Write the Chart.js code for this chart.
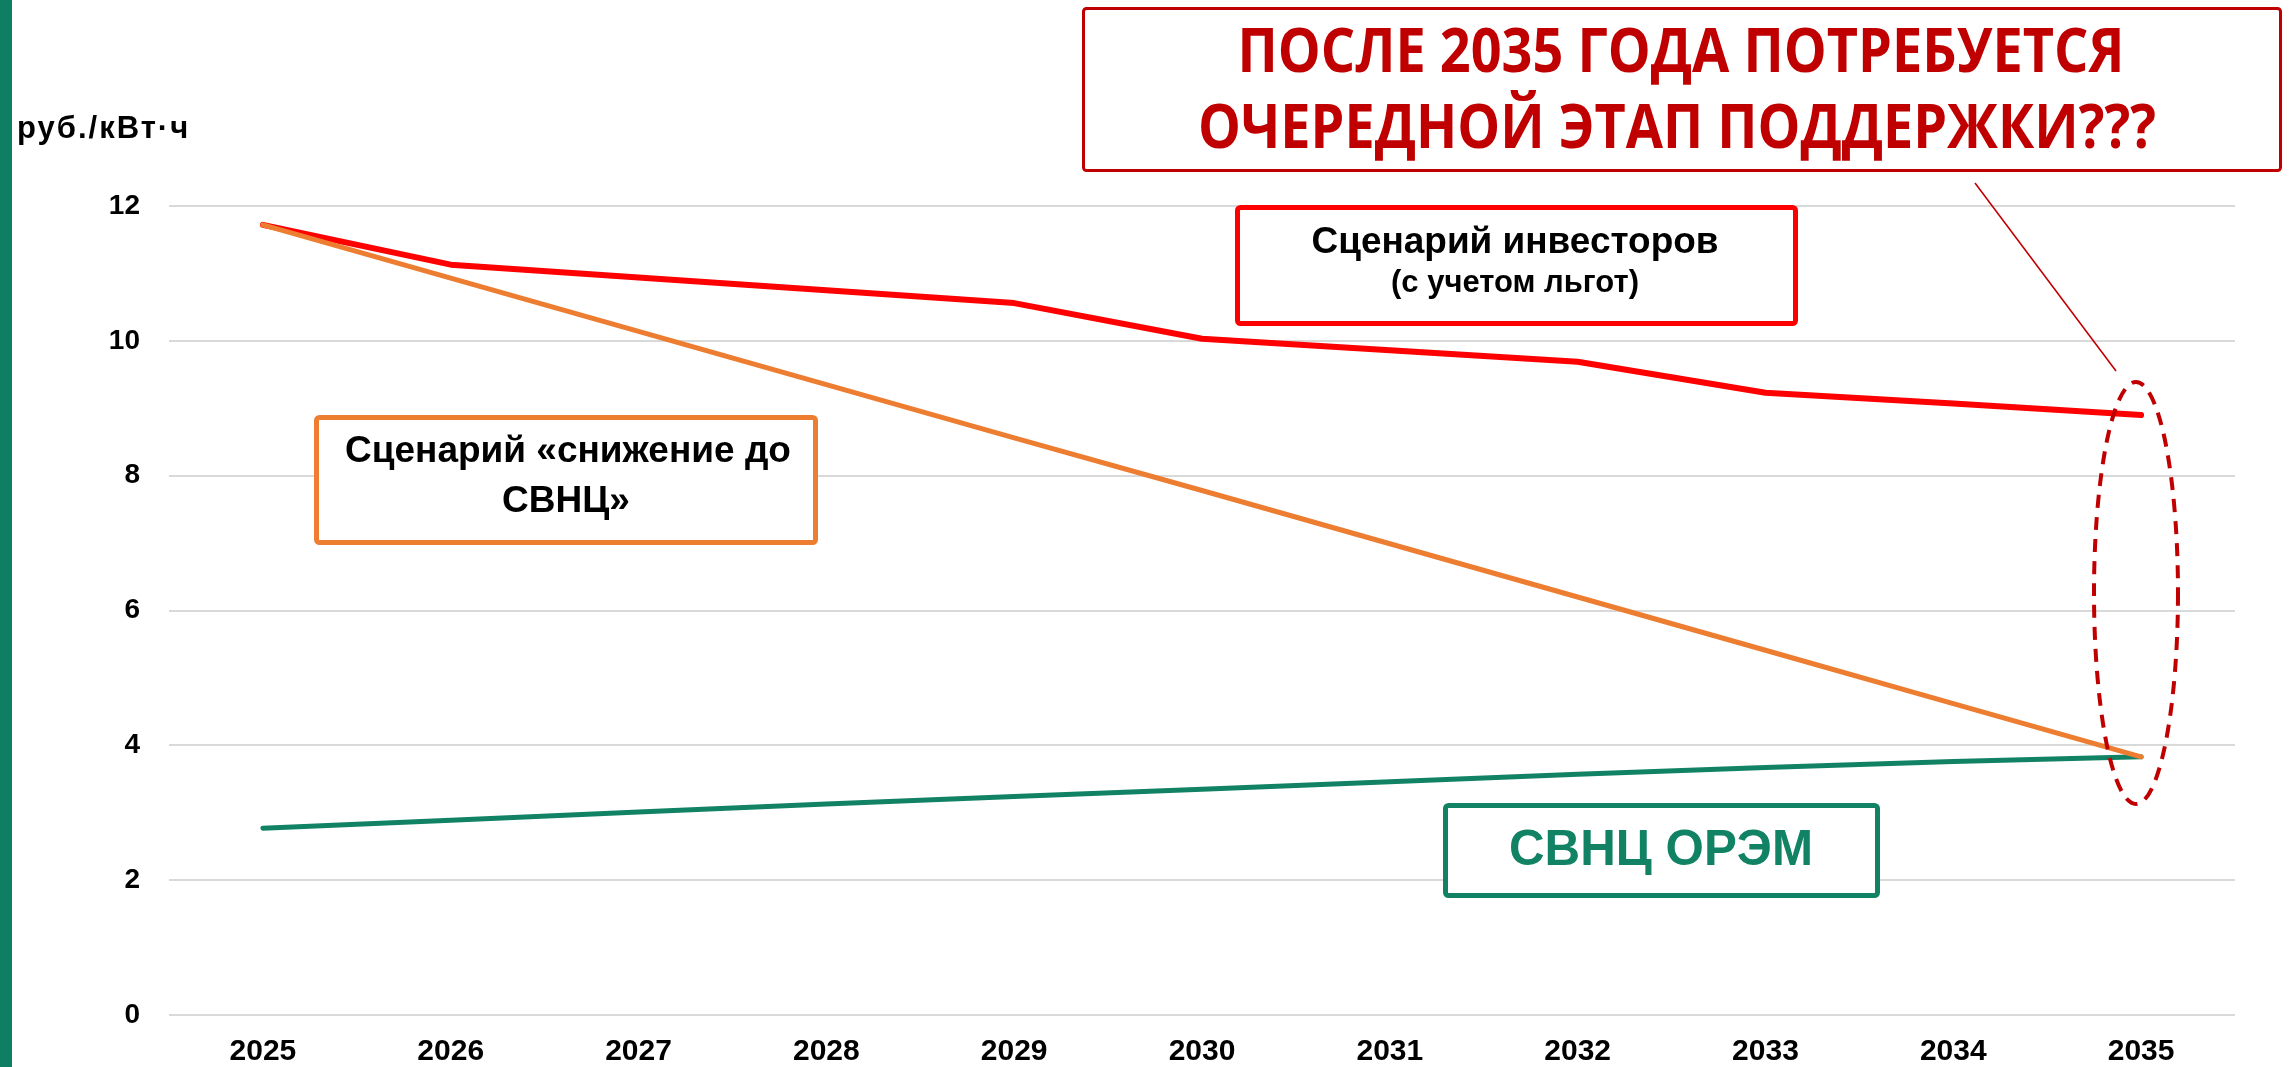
<!DOCTYPE html>
<html lang="ru">
<head>
<meta charset="utf-8">
<title>Сценарии цены, руб./кВт·ч</title>
<script src="https://cdn.jsdelivr.net/npm/chart.js@4.4.1/dist/chart.umd.min.js"></script>
<style>
  html, body { margin: 0; padding: 0; background: #fff; }
  #wrap { width: 2290px; height: 1067px; position: relative; }
</style>
</head>
<body>
<div id="wrap"><canvas id="priceChart" width="2290" height="1067"></canvas></div>
<script>
// years on the x axis
const years = ['2025', '2026', '2027', '2028', '2029', '2030', '2031', '2032', '2033', '2034', '2035'];

// values, руб./кВт·ч
const investorScenario = [11.72, 11.13, 10.94, 10.75, 10.56, 10.03, 9.86, 9.69, 9.23, 9.07, 8.90];
const svncDecline = [11.72, 10.93, 10.14, 9.35, 8.56, 7.78, 6.99, 6.20, 5.41, 4.62, 3.83];
const svncWholesale = [2.77, 2.89, 3.01, 3.13, 3.24, 3.35, 3.46, 3.57, 3.67, 3.76, 3.83];

const yMin = 0;
const yMax = 12;
const yStep = 2;

const RED = '#FF0000';
const ORANGE = '#ED7D31';
const GREEN = '#128265';
const DARK_RED = '#C00000';
const FONT = '"Liberation Sans", Arial, sans-serif';

function strokeBox(ctx, x, y, w, h, color, lw) {
    ctx.save();
    ctx.beginPath();
    ctx.roundRect(x + lw / 2, y + lw / 2, w - lw, h - lw, 3);
    ctx.fillStyle = '#fff';
    ctx.fill();
    ctx.lineWidth = lw;
    ctx.strokeStyle = color;
    ctx.stroke();
    ctx.restore();
}

function centerText(ctx, text, cx, baseline, font, color, maxWidth) {
    ctx.save();
    ctx.font = font;
    ctx.fillStyle = color;
    ctx.textAlign = 'center';
    ctx.textBaseline = 'alphabetic';
    ctx.fillText(text, cx, baseline, maxWidth);
    ctx.restore();
}

const slidePlugin = {
    id: 'slideDecor',
    beforeDraw(chart) {
        const ctx = chart.ctx;
        ctx.save();
        ctx.fillStyle = '#fff';
        ctx.fillRect(0, 0, chart.width, chart.height);
        // green strip at the left edge of the slide
        ctx.fillStyle = '#0F7F63';
        ctx.fillRect(0, 0, 12, chart.height);
        ctx.restore();
    },
    afterDraw(chart) {
        const ctx = chart.ctx;

        // unit label
        ctx.save();
        ctx.font = 'bold 31px ' + FONT;
        ctx.letterSpacing = '2px';
        ctx.fillStyle = '#000';
        ctx.textAlign = 'left';
        ctx.fillText('руб./кВт·ч', 17, 138);
        ctx.restore();

        // callout box at the top
        strokeBox(ctx, 1082, 7, 1200, 165, DARK_RED, 3);
        centerText(ctx, 'ПОСЛЕ 2035 ГОДА ПОТРЕБУЕТСЯ', 1681, 72, 'bold 60px "Open Sans", sans-serif', DARK_RED, 887);
        centerText(ctx, 'ОЧЕРЕДНОЙ ЭТАП ПОДДЕРЖКИ???', 1677, 148, 'bold 60px "Open Sans", sans-serif', DARK_RED, 958);

        // leader line from the callout to the ellipse
        ctx.save();
        ctx.strokeStyle = DARK_RED;
        ctx.lineWidth = 1.5;
        ctx.beginPath();
        ctx.moveTo(1975, 183);
        ctx.lineTo(2116, 371);
        ctx.stroke();
        ctx.restore();

        // dashed ellipse around the 2035 values
        ctx.save();
        ctx.strokeStyle = DARK_RED;
        ctx.lineWidth = 4;
        ctx.setLineDash([13, 9]);
        ctx.beginPath();
        ctx.ellipse(2136, 593, 42, 211, 0, 0, Math.PI * 2);
        ctx.stroke();
        ctx.restore();

        // series labels
        strokeBox(ctx, 1235, 205, 563, 121, RED, 5);
        centerText(ctx, 'Сценарий инвесторов', 1515, 253, 'bold 37px ' + FONT, '#000', 407);
        centerText(ctx, '(с учетом льгот)', 1515, 292, 'bold 31px ' + FONT, '#000', 257);

        strokeBox(ctx, 314, 415, 504, 130, ORANGE, 5);
        centerText(ctx, 'Сценарий «снижение до', 568, 462, 'bold 37px ' + FONT, '#000', 446);
        centerText(ctx, 'СВНЦ»', 566, 512, 'bold 37px ' + FONT, '#000', 128);

        strokeBox(ctx, 1443, 803, 437, 95, GREEN, 5);
        centerText(ctx, 'СВНЦ ОРЭМ', 1661, 865, 'bold 50px ' + FONT, GREEN, 304);
    }
};

const ctx = document.getElementById('priceChart');

new Chart(ctx, {
    type: 'line',
    data: {
        labels: years,
        datasets: [
            {
                label: 'Сценарий «снижение до СВНЦ»',
                data: svncDecline,
                borderColor: ORANGE,
                borderWidth: 5
            },
            {
                label: 'Сценарий инвесторов (с учетом льгот)',
                data: investorScenario,
                borderColor: RED,
                borderWidth: 6
            },
            {
                label: 'СВНЦ ОРЭМ',
                data: svncWholesale,
                borderColor: GREEN,
                borderWidth: 5
            }
        ]
    },
    options: {
        responsive: false,
        animation: false,
        devicePixelRatio: 1,
        layout: { padding: { top: 206, right: 55, bottom: 0, left: 0 } },
        elements: {
            point: { radius: 0, hoverRadius: 0 },
            line: { tension: 0, borderCapStyle: 'round', borderJoinStyle: 'round', fill: false }
        },
        plugins: {
            legend: { display: false },
            tooltip: { enabled: false }
        },
        scales: {
            x: {
                type: 'category',
                offset: true,
                grid: { display: false, drawTicks: false },
                border: { display: false },
                ticks: {
                    color: '#000',
                    padding: 19,
                    maxRotation: 0,
                    font: { family: FONT, size: 30, weight: 'bold' }
                },
                afterFit: s => { s.height = 52; }
            },
            y: {
                min: yMin,
                max: yMax,
                grid: { color: '#D9D9D9', lineWidth: 2, drawTicks: false },
                border: { display: false },
                ticks: {
                    stepSize: yStep,
                    color: '#000',
                    padding: 29,
                    font: { family: FONT, size: 28, weight: 'bold' }
                },
                afterFit: s => { s.width = 169; }
            }
        }
    },
    plugins: [slidePlugin]
});
</script>
</body>
</html>
